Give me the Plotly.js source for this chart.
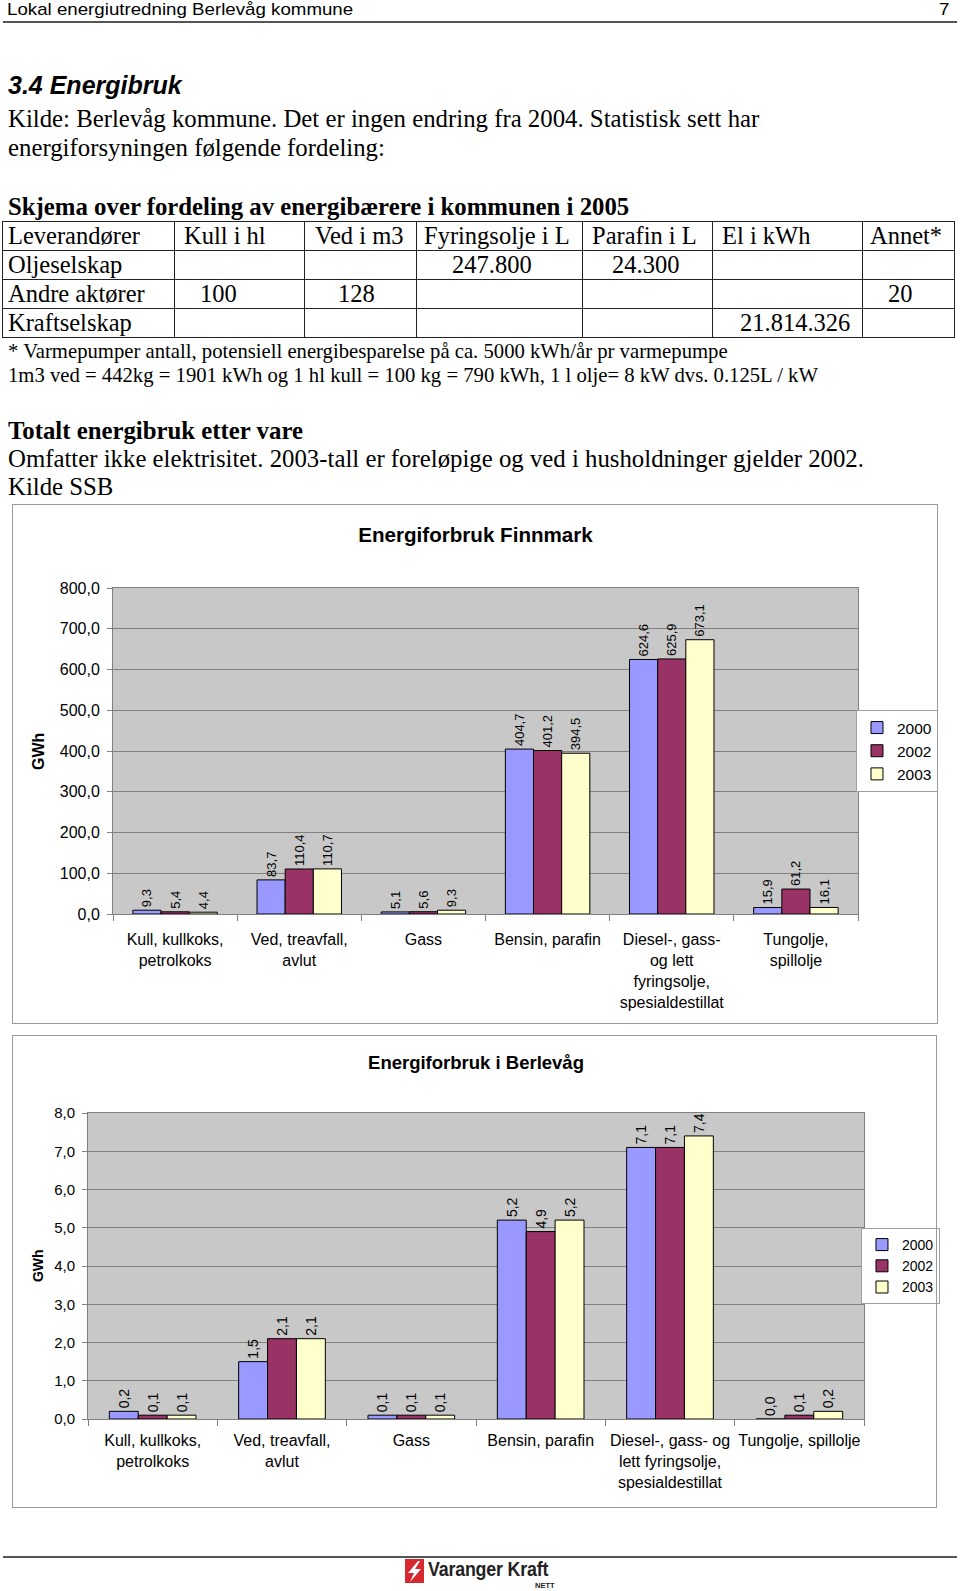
<!DOCTYPE html>
<html><head><meta charset="utf-8">
<script src="https://cdn.plot.ly/plotly-3.0.1.min.js"></script>
<style>
body{margin:0;background:#fff;}
#page{position:relative;width:960px;height:1591px;overflow:hidden;background:#fff;color:#000;}
.t{position:absolute;white-space:nowrap;}
.serif{font-family:"Liberation Serif","Times New Roman",serif;}
.sans{font-family:"Liberation Sans",Arial,sans-serif;}
.rule{position:absolute;left:3px;width:954px;height:2px;background:#555;}
.box{position:absolute;border:1px solid #9a9a9a;box-sizing:border-box;pointer-events:none;}
.plot{position:absolute;}
table.grid{position:absolute;left:2px;top:221px;border-collapse:collapse;table-layout:fixed;font-family:"Liberation Serif","Times New Roman",serif;font-size:24.5px;}
table.grid td{border:1px solid #222;height:28px;padding:0;line-height:28px;white-space:nowrap;overflow:hidden;vertical-align:middle;}
</style></head>
<body><div id="page">
<div class="t sans" style="left:7px;top:0px;font-size:17px;line-height:19.5px;transform:scaleX(1.1);transform-origin:left top;">Lokal energiutredning Berlevåg kommune</div>
<div class="t sans" style="left:939px;top:0px;font-size:17px;line-height:19.5px;transform:scaleX(1.1);transform-origin:left top;">7</div>
<div class="rule" style="top:21px;"></div>

<div class="t sans" style="left:8px;top:71px;font-size:25px;line-height:28px;font-weight:bold;font-style:italic;">3.4 Energibruk</div>
<div class="t serif" style="left:8px;top:105px;font-size:24.8px;line-height:28.5px;">Kilde: Berlevåg kommune. Det er ingen endring fra 2004. Statistisk sett har<br>energiforsyningen følgende fordeling:</div>

<div class="t serif" style="left:8px;top:193px;font-size:24.8px;line-height:28px;font-weight:bold;">Skjema over fordeling av energibærere i kommunen i 2005</div>
<table class="grid" id="tbl"></table>
<div class="t serif" style="left:8px;top:340px;font-size:20.7px;line-height:23.5px;">* Varmepumper antall, potensiell energibesparelse på ca. 5000 kWh/år pr varmepumpe<br>1m3 ved = 442kg = 1901 kWh og 1 hl kull = 100 kg = 790 kWh, 1 l olje= 8 kW dvs. 0.125L / kW</div>

<div class="t serif" style="left:8px;top:417px;font-size:24.8px;line-height:28.3px;font-weight:bold;">Totalt energibruk etter vare</div>
<div class="t serif" style="left:8px;top:445px;font-size:24.8px;line-height:28.3px;">Omfatter ikke elektrisitet. 2003-tall er foreløpige og ved i husholdninger gjelder 2002.<br>Kilde SSB</div>

<div id="chart1" class="plot" style="left:13px;top:505px;width:944px;height:518px;"></div>
<div class="box" style="left:12px;top:504px;width:926px;height:520px;"></div>
<div id="chart2" class="plot" style="left:13px;top:1036px;width:944px;height:471px;"></div>
<div class="box" style="left:12px;top:1035px;width:925px;height:473px;"></div>

<div class="rule" style="top:1556px;"></div>
<svg style="position:absolute;left:405px;top:1559px;" width="20" height="25">
<rect x="0" y="0" width="19" height="24" fill="#d7282f"/>
<polygon points="13,2 3,14 9,14 5,23 16,10 10,10 15,2" fill="#fff"/>
</svg>
<div class="t sans" style="left:428px;top:1558px;font-weight:bold;font-size:20px;line-height:22px;color:#222;transform:scaleX(0.89);transform-origin:left top;letter-spacing:-0.2px;">Varanger Kraft</div>
<div class="t sans" style="left:535px;top:1581px;font-size:7.5px;line-height:9px;font-weight:bold;color:#222;">NETT</div>
</div>
<script>
// ---- table data ----
const tableHeader = ["Leverandører","Kull i hl","Ved i m3","Fyringsolje i L","Parafin i L","El i kWh","Annet*"];
const rowOlje = ["Oljeselskap","","","247.800","24.300","",""];
const rowAndre = ["Andre aktører","100","128","","","","20"];
const rowKraft = ["Kraftselskap","","","","","21.814.326",""];

// ---- chart data ----
const categoriesFinnmark = ["Kull, kullkoks,<br>petrolkoks","Ved, treavfall,<br>avlut","Gass","Bensin, parafin","Diesel-, gass-<br>og lett<br>fyringsolje,<br>spesialdestillat","Tungolje,<br>spillolje"];
const finnmark2000 = [9.3, 83.7, 5.1, 404.7, 624.6, 15.9];
const finnmark2002 = [5.4, 110.4, 5.6, 401.2, 625.9, 61.2];
const finnmark2003 = [4.4, 110.7, 9.3, 394.5, 673.1, 16.1];

const categoriesBerlevag = ["Kull, kullkoks,<br>petrolkoks","Ved, treavfall,<br>avlut","Gass","Bensin, parafin","Diesel-, gass- og<br>lett fyringsolje,<br>spesialdestillat","Tungolje, spillolje"];
const berlevag2000 = [0.2, 1.5, 0.1, 5.2, 7.1, 0.0];
const berlevag2002 = [0.1, 2.1, 0.1, 4.9, 7.1, 0.1];
const berlevag2003 = [0.1, 2.1, 0.1, 5.2, 7.4, 0.2];

const seriesNames = ["2000","2002","2003"];

// ---- styles ----
const colWidths = [172,130,112,166,130,150,92];
const cellPad = [[5,9,10,7,9,9,7],[5,0,0,35,29,0,0],[5,25,33,0,0,0,25],[5,0,0,0,0,27,0]];
const seriesColors = ["#9999FF","#993366","#FFFFCC"];

// build table
const tbl = document.getElementById('tbl');
const cg = document.createElement('colgroup');
colWidths.forEach(w=>{const c=document.createElement('col');c.style.width=w+'px';cg.appendChild(c);});
tbl.appendChild(cg);
[tableHeader,rowOlje,rowAndre,rowKraft].forEach((row,ri)=>{
  const tr=document.createElement('tr');
  row.forEach((txt,ci)=>{const td=document.createElement('td');td.textContent=txt;td.style.paddingLeft=cellPad[ri][ci]+'px';tr.appendChild(td);});
  tbl.appendChild(tr);
});

const FONT = 'Liberation Sans, Arial, sans-serif';
function traces(cats, series, labelSize){
  return series.map((vals,i)=>({
    type:'bar', x:cats, y:vals, name:seriesNames[i],
    marker:{color:seriesColors[i], line:{color:'#000', width:1}},
    texttemplate:'%{y:.1f}', textposition:'outside', textangle:-90,
    textfont:{size:labelSize, color:'#000', family:FONT},
    cliponaxis:false, constraintext:'none', hoverinfo:'none'
  }));
}
function layout(o){
  return {
    width:o.w, height:o.h,
    margin:{l:o.l, r:o.r, t:o.t, b:o.b, autoexpand:false},
    paper_bgcolor:'rgba(0,0,0,0)', plot_bgcolor:'#c8c8c8',
    separators:', ',
    font:{family:FONT, color:'#000', size:o.fs},
    title:{text:'<b>'+o.title+'</b>', x:o.tx, xref:'paper', xanchor:'center', y:o.ty, yref:'container', yanchor:'middle', font:{size:o.tfs, color:'#000', family:FONT}},
    barmode:'group', bargap:o.gap, bargroupgap:0,
    xaxis:{type:'category', tickson:'boundaries', ticks:'outside', ticklen:6, tickcolor:'#808080', showline:true, linecolor:'#808080', mirror:true, showgrid:false, tickangle:0, tickfont:{size:o.cfs}, ticklabelstandoff:o.xso, fixedrange:true},
    yaxis:{range:[0,o.ymax], dtick:o.dtick, tickformat:'.1f', ticks:'outside', ticklen:5, tickcolor:'#808080', showline:true, linecolor:'#808080', mirror:true, gridcolor:'#808080', gridwidth:1, zeroline:false, tickfont:{size:o.fs}, ticklabelstandoff:4, fixedrange:true},
    legend:{x:o.lx, xanchor:'left', y:0.5, yanchor:'middle', bordercolor:'#a0a0a0', borderwidth:1, bgcolor:'#fff', font:{size:o.lfs}, tracegroupgap:0},
    showlegend:true,
    annotations:[{text:'<b>GWh</b>', xref:'paper', yref:'paper', x:o.gx, y:0.5, xanchor:'center', yanchor:'middle', textangle:-90, showarrow:false, font:{size:o.gfs}}]
  };
}
// chart1 plot area: x 113..858 (745 wide), y 588..914
Plotly.newPlot('chart1', traces(categoriesFinnmark,[finnmark2000,finnmark2002,finnmark2003],13),
  layout({w:944,h:518,l:100,r:99,t:83,b:109,fs:16,cfs:16,tfs:20.6,lfs:15.5,gfs:16,title:'Energiforbruk Finnmark',tx:0.4866,ty:0.942,gap:0.32,ymax:800,dtick:100,lx:0.9973,gx:-0.1007,xso:11}),
  {staticPlot:true, displayModeBar:false});
// chart2 plot area: x 88..864 (776 wide), y 1113..1419
Plotly.newPlot('chart2', traces(categoriesBerlevag,[berlevag2000,berlevag2002,berlevag2003],14),
  layout({w:944,h:471,l:75,r:93,t:77,b:88,fs:15,cfs:16,tfs:18.5,lfs:14,gfs:14,title:'Energiforbruk i Berlevåg',tx:0.5,ty:0.943,gap:0.33,ymax:8,dtick:1,lx:0.9961,gx:-0.0644,xso:7}),
  {staticPlot:true, displayModeBar:false});
</script>
</body></html>
